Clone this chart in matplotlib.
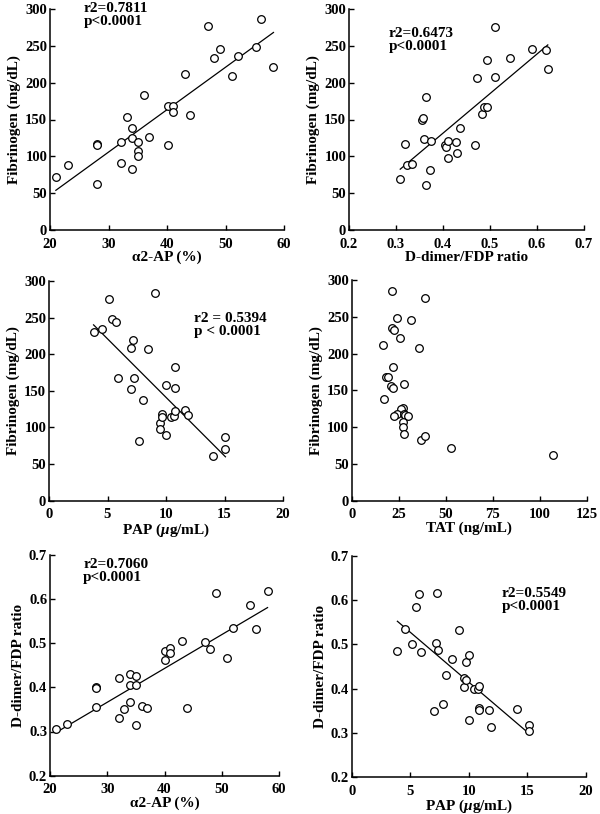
import numpy as np
import matplotlib
matplotlib.use("Agg")
import matplotlib.pyplot as plt

plt.rcParams['font.family'] = ['Liberation Serif', 'DejaVu Serif']
plt.rcParams['font.weight'] = 'bold'
plt.rcParams['mathtext.fontset'] = 'custom'
plt.rcParams['mathtext.rm'] = 'Liberation Serif:bold'
plt.rcParams['mathtext.it'] = 'Liberation Serif:italic:bold'

# Panel A: Fibrinogen vs alpha2-AP
a2ap_fib_x = [21, 23, 28, 28, 28, 32.2, 32.2, 33.1, 34, 34, 34, 35.1, 35.1, 35.1, 36.1, 37,
              40.1, 40.1, 41.1, 41.1, 43.1, 44, 47, 48.1, 49, 51.1, 52.2, 55.2, 56.1, 58.2]
a2ap_fib_y = [72, 88, 117, 115, 63, 120, 91, 153, 139, 125, 83, 119, 107, 100, 183, 126,
              169, 116, 169, 160, 212, 156, 277, 233, 246, 209, 236, 249, 286, 221]

# Panel B: Fibrinogen vs D-dimer/FDP ratio
dd_fib_x = [0.309, 0.319, 0.324, 0.335, 0.363, 0.372, 0.355, 0.358, 0.363, 0.359, 0.374,
            0.405, 0.407, 0.410, 0.410, 0.428, 0.430, 0.437, 0.469, 0.472, 0.484, 0.488,
            0.494, 0.493, 0.510, 0.511, 0.542, 0.590, 0.620, 0.623]
dd_fib_y = [69, 117, 88, 90, 61, 82, 150, 152, 181, 123, 121,
            115, 113, 121, 98, 119, 104, 138, 115, 206, 158, 167,
            167, 231, 275, 208, 233, 246, 244, 218]

# Panel C: Fibrinogen vs PAP
pap_fib_x = [3.81, 4.5, 5.09, 5.38, 5.69, 5.86, 6.97, 7.05, 7.17, 7.23, 7.71, 8.0, 8.48, 9.1,
             9.47, 9.47, 9.7, 9.7, 9.96, 9.96, 10.41, 10.7, 10.8, 10.8, 10.8, 11.64, 11.84,
             14.05, 15.08, 15.08]
pap_fib_y = [231, 235, 276, 248, 244, 167, 152, 209, 220, 167, 81, 137, 207, 284,
             106, 98, 118, 114, 158, 90, 114, 116, 182, 154, 123, 124, 117,
             61, 87, 70]

# Panel D: Fibrinogen vs TAT
tat_fib_x = [21.6, 39.1, 24.2, 31.3, 21.6, 22.6, 25.8, 16.8, 35.7, 22.1, 18.0, 19.3, 21.0,
             22.1, 28.0, 17.2, 27.4, 26.3, 23.9, 22.6, 28.0, 28.5, 29.7, 27.1, 27.1, 28.0,
             36.8, 39.1, 52.5, 106.8]
tat_fib_y = [285, 276, 248, 245, 235, 232, 221, 211, 208, 182, 168, 168, 156,
             153, 159, 138, 126, 124, 118, 115, 118, 116, 115, 107, 100, 91,
             83, 88, 71, 62]

# Panel E: D-dimer/FDP ratio vs alpha2-AP
a2ap_dd_x = [21, 23, 28, 28, 28, 32, 32, 33, 34, 34, 34, 35, 35, 35, 36, 37,
             40, 40, 41, 41, 43, 44, 47, 48, 49, 51, 52, 55, 56, 58]
a2ap_dd_y = [0.306, 0.318, 0.401, 0.399, 0.355, 0.422, 0.330, 0.351, 0.431, 0.405, 0.367,
             0.425, 0.405, 0.315, 0.358, 0.353, 0.483, 0.462, 0.488, 0.477, 0.505, 0.353,
             0.503, 0.486, 0.614, 0.467, 0.535, 0.586, 0.533, 0.617]

# Panel F: D-dimer/FDP ratio vs PAP
pap_dd_x = [3.9, 4.55, 5.18, 5.49, 5.75, 5.95, 7.06, 7.17, 7.25, 7.34, 7.82, 8.08, 8.56, 9.19,
            9.56, 9.56, 9.76, 9.76, 10.04, 10.04, 10.47, 10.81, 10.9, 10.9, 10.9, 11.72, 11.89,
            14.11, 15.16, 15.16]
pap_dd_y = [0.485, 0.534, 0.501, 0.585, 0.613, 0.482, 0.349, 0.504, 0.616, 0.488, 0.366,
            0.430, 0.467, 0.533, 0.424, 0.404, 0.420, 0.461, 0.476, 0.329, 0.400, 0.398,
            0.405, 0.357, 0.352, 0.352, 0.314, 0.354, 0.317, 0.305]

fig = plt.figure(figsize=(6.0, 8.14), dpi=100)

def px_axes(left, right, bottom, top):
    W, H = 600.0, 814.0
    return fig.add_axes([left / W, 1 - bottom / H, (right - left) / W, (bottom - top) / H])

panels = [
    dict(rect=(50, 284, 230, 9), x=a2ap_fib_x, y=a2ap_fib_y, xlim=(20, 60), xt=np.arange(20, 61, 10),
         ylim=(0, 300), yt=np.arange(0, 301, 50), xl='α2-AP (%)', yl='Fibrinogen (mg/dL)',
         fit=True, txt='r2=0.7811\np<0.0001', tpos=(0.145, 1.03), yfmt='{:.0f}', xfmt='{:.0f}'),
    dict(rect=(349, 584, 230, 9), x=dd_fib_x, y=dd_fib_y, xlim=(0.2, 0.7), xt=np.arange(0.2, 0.71, 0.1),
         ylim=(0, 300), yt=np.arange(0, 301, 50), xl='D-dimer/FDP ratio', yl='Fibrinogen (mg/dL)',
         fit=True, txt='r2=0.6473\np<0.0001', tpos=(0.17, 0.92), yfmt='{:.0f}', xfmt='{:.1f}'),
    dict(rect=(49, 283, 500.7, 281), x=pap_fib_x, y=pap_fib_y, xlim=(0, 20), xt=np.arange(0, 21, 5),
         ylim=(0, 300), yt=np.arange(0, 301, 50), xl=r'PAP ($\mu$g/mL)', yl='Fibrinogen (mg/dL)',
         fit=True, txt='r2 = 0.5394\np < 0.0001', tpos=(0.62, 0.86), yfmt='{:.0f}', xfmt='{:.0f}'),
    dict(rect=(351.7, 587, 500.7, 280), x=tat_fib_x, y=tat_fib_y, xlim=(0, 125), xt=np.arange(0, 126, 25),
         ylim=(0, 300), yt=np.arange(0, 301, 50), xl='TAT (ng/mL)', yl='Fibrinogen (mg/dL)',
         fit=False, txt=None, tpos=None, yfmt='{:.0f}', xfmt='{:.0f}'),
    dict(rect=(50, 279, 775.7, 554.7), x=a2ap_dd_x, y=a2ap_dd_y, xlim=(20, 60), xt=np.arange(20, 61, 10),
         ylim=(0.2, 0.7), yt=np.arange(0.2, 0.71, 0.1), xl='α2-AP (%)', yl='D-dimer/FDP ratio',
         fit=True, txt='r2=0.7060\np<0.0001', tpos=(0.145, 0.985), yfmt='{:.1f}', xfmt='{:.0f}'),
    dict(rect=(351.7, 586, 777, 556), x=pap_dd_x, y=pap_dd_y, xlim=(0, 20), xt=np.arange(0, 21, 5),
         ylim=(0.2, 0.7), yt=np.arange(0.2, 0.71, 0.1), xl=r'PAP ($\mu$g/mL)', yl='D-dimer/FDP ratio',
         fit=True, txt='r2=0.5549\np<0.0001', tpos=(0.64, 0.86), yfmt='{:.1f}', xfmt='{:.0f}'),
]

FS = 10.5
for p in panels:
    l, r, b, t = p['rect']
    ax = px_axes(l, r, b, t)
    x = np.array(p['x']); y = np.array(p['y'])
    ax.plot(x, y, 'o', mfc='white', mec='black', ms=5.5, mew=0.9, zorder=3, clip_on=False)
    if p['fit']:
        k, c = np.polyfit(x, y, 1)
        xx = np.array([x.min(), x.max()])
        ax.plot(xx, k * xx + c, color='black', lw=0.9, zorder=2)
    ax.set_xlim(*p['xlim']); ax.set_ylim(*p['ylim'])
    ax.set_xticks(p['xt']); ax.set_yticks(p['yt'])
    ax.set_xticklabels([p['xfmt'].format(v) for v in p['xt']], fontsize=FS, fontweight='bold')
    ax.set_yticklabels([p['yfmt'].format(v) for v in p['yt']], fontsize=FS, fontweight='bold')
    for s in ['top', 'right']:
        ax.spines[s].set_visible(False)
    for s in ['left', 'bottom']:
        ax.spines[s].set_linewidth(1.1)
    ax.tick_params(direction='in', length=3.5, width=1.0)
    ax.tick_params(axis='y', pad=2)
    ax.tick_params(axis='x', pad=5.5)
    ax.set_xlabel(p['xl'], fontsize=FS + 0.5, fontweight='bold', labelpad=0)
    ax.set_ylabel(p['yl'], fontsize=FS + 0.5, fontweight='bold', labelpad=3)
    if p['txt']:
        ax.text(p['tpos'][0], p['tpos'][1], p['txt'], transform=ax.transAxes, ha='left', va='top',
                fontsize=FS + 0.5, fontweight='bold', linespacing=1.0)

fig.savefig('out.png', dpi=100)
